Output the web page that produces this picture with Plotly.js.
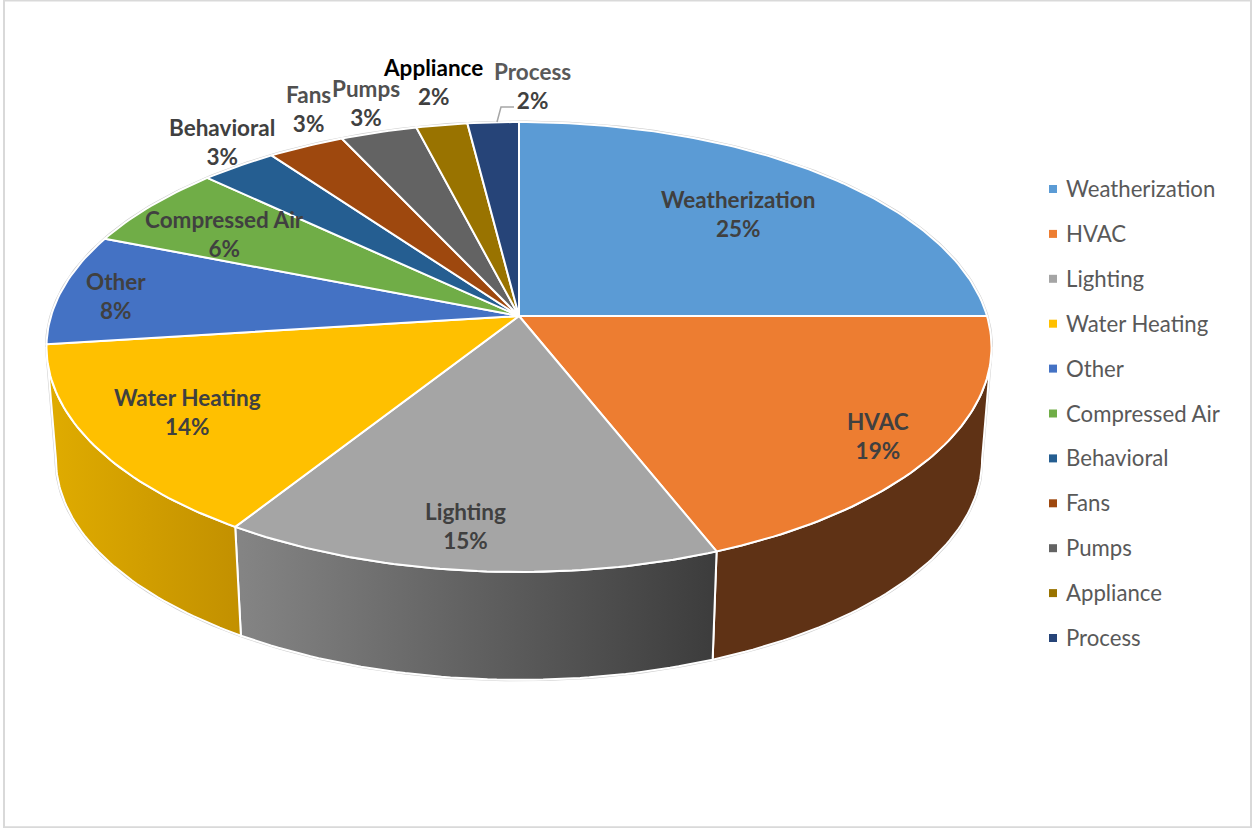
<!DOCTYPE html>
<html>
<head>
<meta charset="utf-8">
<script src="https://cdn.plot.ly/plotly-3.0.1.min.js"></script>
<style>html,body{margin:0;padding:0;background:#fff;overflow:hidden}#chart{width:1252px;height:828px}</style>
</head>
<body>
<div id="chart"></div>
<script>
// Savings share by end use, in percent
const categories = ['Weatherization','HVAC','Lighting','Water Heating','Other','Compressed Air','Behavioral','Fans','Pumps','Appliance','Process'];
const shares = [25,19,15,14,8,6,3,3,3,2,2];
const topColors = ['#5B9BD5','#ED7D31','#A5A5A5','#FFC000','#4472C4','#70AD47','#255E91','#9E480E','#636363','#997300','#264478'];

// Rim shading for the three slices whose outer wall faces the viewer
const rimColors = {
  'HVAC': ['#5F3215','#5F3215'],
  'Lighting': ['#858585','#3C3C3C'],
  'Water Heating': ['#E0AC00','#C29000']
};

// Data label centres in pixel axes
const labelX = [738,878,465,187,116,224,222,308,366,433,532];
const labelY = [214,436,526,412,296,233.5,142,109,103,82,85.5];
const labelInk = ['#404040','#404040','#404040','#404040','#404040','#404040','#404040','#505050','#505050','#000000','#595959'];
const valueInk = '#404040';

// Perspective disc: the far edge shrinks, the near edge grows
const CX = 519, CY = 316, A = 468, B = 220.7, K = 0.1378;
const BASE_SCALE = 0.98, BASE_CY = 429;
const TANGENT = 180 * Math.acos(-K) / Math.PI;   // angle of the widest point on the right side

function project(deg, scale, cy) {
  const t = deg * Math.PI / 180;
  const e = Math.sin(t), s = -Math.cos(t), w = 1 - K * s;
  return [CX + scale * A * e / w, cy + scale * B * s / w];
}
function arc(d0, d1, scale, cy) {
  const n = Math.max(2, Math.ceil(Math.abs(d1 - d0)));
  const pts = [];
  for (let i = 0; i <= n; i++) pts.push(project(d0 + (d1 - d0) * i / n, scale, cy));
  return pts;
}
function polyTrace(pts, extra) {
  return Object.assign({
    type: 'scatter', mode: 'lines', fill: 'toself', hoverinfo: 'skip', showlegend: false,
    x: pts.map(p => p[0]), y: pts.map(p => p[1])
  }, extra);
}

const total = shares.reduce((a, b) => a + b, 0);
const spans = [];
shares.reduce((acc, v) => { spans.push([acc / total * 360, (acc + v) / total * 360]); return acc + v; }, 0);

const traces = [];

// Faint hairline around the whole solid
const rim = arc(360 - TANGENT, 360 + TANGENT, 1, CY)
  .concat(arc(TANGENT, 360 - TANGENT, BASE_SCALE, BASE_CY));
rim.push(rim[0]);
traces.push(polyTrace(rim, { name: 'outline', fill: 'none', line: { color: '#cfcfcf', width: 3 } }));

// Outer walls
categories.forEach((name, i) => {
  if (!rimColors[name]) return;
  const d0 = Math.max(spans[i][0], TANGENT), d1 = Math.min(spans[i][1], 360 - TANGENT);
  if (d1 <= d0) return;
  const pts = arc(d0, d1, 1, CY).concat(arc(d1, d0, BASE_SCALE, BASE_CY));
  pts.push(pts[0]);
  traces.push(polyTrace(pts, {
    name: name + ' wall',
    line: { color: '#ffffff', width: 2 },
    fillcolor: rimColors[name][0],
    fillgradient: { type: 'horizontal', colorscale: [[0, rimColors[name][0]], [1, rimColors[name][1]]] }
  }));
});

// Top face wedges
categories.forEach((name, i) => {
  const pts = [[CX, CY]].concat(arc(spans[i][0], spans[i][1], 1, CY));
  pts.push([CX, CY]);
  traces.push(polyTrace(pts, {
    name: name,
    fillcolor: topColors[i],
    line: { color: '#ffffff', width: 2 }
  }));
});

// Leader from the Process label to its wedge
traces.push({
  type: 'scatter', mode: 'lines', hoverinfo: 'skip', showlegend: false, name: 'leader',
  x: [497, 501, 514], y: [122, 107, 107], line: { color: '#A6A6A6', width: 1.5 }
});

// Legend keys
const LEGEND_TOP = 189, LEGEND_STEP = 44.9;
traces.push({
  type: 'scatter', mode: 'markers', hoverinfo: 'skip', showlegend: false, name: 'legend keys',
  x: categories.map(() => 1053),
  y: categories.map((c, i) => LEGEND_TOP + i * LEGEND_STEP),
  marker: { symbol: 'square', size: 8, color: topColors, line: { width: 0 } }
});

const annotations = categories.map((name, i) => ({
  x: labelX[i], y: labelY[i], xref: 'x', yref: 'y', xanchor: 'center', yanchor: 'middle',
  showarrow: false, align: 'center',
  text: '<b>' + name + '</b><br><span style="color:' + valueInk + '"><b>' + shares[i] + '%</b></span>',
  font: { family: 'Lato, Carlito, sans-serif', size: 22.5, color: labelInk[i] }
})).concat(categories.map((name, i) => ({
  x: 1066, y: LEGEND_TOP + i * LEGEND_STEP, xref: 'x', yref: 'y', xanchor: 'left', yanchor: 'middle',
  showarrow: false, xshift: -2, yshift: 0.5, text: name,
  font: { family: 'Lato, Carlito, sans-serif', size: 22.2, color: '#595959' }
})));

const layout = {
  width: 1252, height: 828,
  margin: { l: 0, r: 0, t: 0, b: 0 },
  paper_bgcolor: '#ffffff', plot_bgcolor: '#ffffff',
  xaxis: { range: [0, 1252], visible: false, fixedrange: true },
  yaxis: { range: [828, 0], visible: false, fixedrange: true },
  annotations: annotations,
  shapes: [{
    type: 'rect', xref: 'x', yref: 'y', x0: 4, x1: 1251, y0: 0.5, y1: 827.2,
    line: { color: '#D9D9D9', width: 2 }, fillcolor: 'rgba(0,0,0,0)', layer: 'below'
  }]
};

Plotly.newPlot('chart', traces, layout, { displayModeBar: false, responsive: false });
</script>
</body>
</html>
